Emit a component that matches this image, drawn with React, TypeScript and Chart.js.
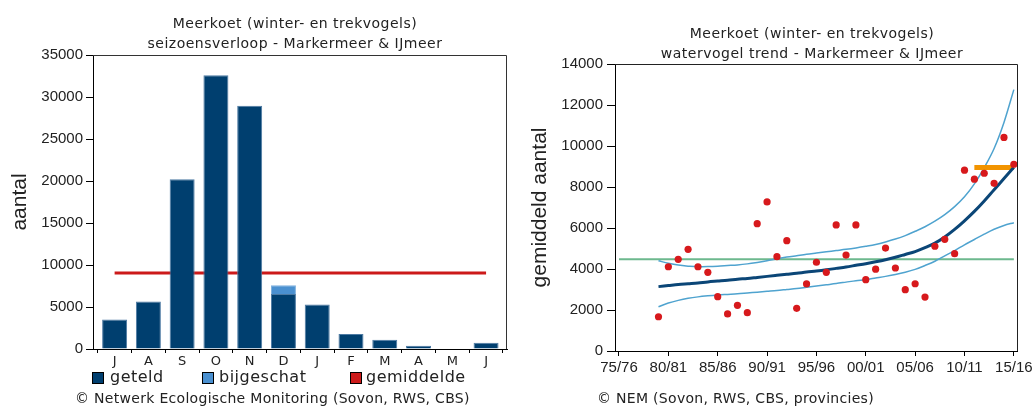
import React, { useEffect, useRef } from 'react';
import { Chart, registerables } from 'chart.js';

Chart.register(...registerables);

// ---------- Left chart: seasonal pattern ----------
const MONTH_LABELS = ['J', 'A', 'S', 'O', 'N', 'D', 'J', 'F', 'M', 'A', 'M', 'J'];
const MONTH_INDEX = [0, 1, 2, 3, 4, 5, 6, 7, 8, 9, 10, 11];
const COUNTED = [3500, 5650, 20200, 32600, 28950, 6550, 5300, 1800, 1100, 400, 0, 750];
const ESTIMATED = [0, 0, 0, 0, 0, 1050, 0, 0, 0, 0, 0, 0];
const SEASON_AVERAGE = 9050;

// ---------- Right chart: trend ----------
const TREND_YEARS = [
  1979, 1980, 1981, 1982, 1983, 1984, 1985, 1986, 1987, 1988,
  1989, 1990, 1991, 1992, 1993, 1994, 1995, 1996, 1997, 1998,
  1999, 2000, 2001, 2002, 2003, 2004, 2005, 2006, 2007, 2008,
  2009, 2010, 2011, 2012, 2013, 2014, 2015,
];
const TREND_COUNTS = [
  1670, 4110, 4470, 4960, 4110, 3840, 2650, 1810, 2230, 1870,
  6210, 7270, 4600, 5380, 2080, 3270, 4330, 3840, 6150, 4680,
  6150, 3480, 3990, 5020, 4050, 2990, 3280, 2630, 5110, 5450,
  4750, 8820, 8380, 8670, 8180, 10420, 9110,
];
const TREND_LINE = [
  3140, 3190, 3240, 3280, 3320, 3370, 3410, 3450, 3500, 3540,
  3590, 3640, 3690, 3740, 3790, 3850, 3900, 3960, 4030, 4100,
  4180, 4260, 4350, 4450, 4570, 4710, 4850, 5040, 5260, 5560,
  5930, 6350, 6810, 7320, 7870, 8410, 8960,
];
const TREND_UPPER = [
  4400, 4280, 4190, 4140, 4110, 4120, 4140, 4170, 4200, 4250,
  4320, 4400, 4500, 4580, 4650, 4720, 4780, 4840, 4900, 4960,
  5030, 5110, 5200, 5320, 5460, 5630, 5840, 6060, 6330, 6650,
  7040, 7520, 8150, 8950, 9880, 11150, 12750,
];
const TREND_LOWER = [
  2160, 2340, 2470, 2570, 2640, 2690, 2730, 2760, 2790, 2830,
  2870, 2910, 2950, 3000, 3050, 3110, 3170, 3230, 3290, 3360,
  3430, 3480, 3560, 3640, 3730, 3840, 3980, 4170, 4380, 4640,
  4900, 5180, 5440, 5700, 5940, 6120, 6260,
];
const REFERENCE_MEAN = 4480;
const REFERENCE_YEARS = [1975, 2015];
const RECENT_MEAN = 8950;
const RECENT_YEARS = [2011, 2015];
const TREND_TICK_YEARS = [1975, 1980, 1985, 1990, 1995, 2000, 2005, 2010, 2015];
const TREND_TICK_LABELS = ['75/76', '80/81', '85/86', '90/91', '95/96', '00/01', '05/06', '10/11', '15/16'];

const SANS = '"Liberation Sans", Arial, sans-serif';
const VERDANA = '"DejaVu Sans", Verdana, sans-serif';

const framePlugin = {
  id: 'frame',
  afterDraw(chart: any, _args: any, opts: any) {
    const { ctx, chartArea } = chart;
    const { left, right, top, bottom } = chartArea;
    ctx.save();
    ctx.strokeStyle = opts.color || '#333';
    ctx.lineWidth = 1;
    ctx.beginPath();
    ctx.moveTo(left, Math.round(top) + 0.5);
    ctx.lineTo(Math.round(right) - 0.5, Math.round(top) + 0.5);
    ctx.lineTo(Math.round(right) - 0.5, bottom);
    ctx.stroke();
    ctx.restore();
  },
};

function SeasonChart() {
  const ref = useRef<HTMLCanvasElement | null>(null);
  useEffect(() => {
    if (!ref.current) return;
    const chart = new Chart(ref.current, {
      type: 'bar',
      data: {
        datasets: [
          {
            type: 'bar',
            label: 'geteld',
            data: MONTH_INDEX.map((i) => ({ x: i, y: COUNTED[i] })),
            backgroundColor: '#003f6f',
            borderColor: '#4d7aa3',
            borderWidth: 1,
            categoryPercentage: 1,
            barPercentage: 0.74,
            order: 0,
          },
          {
            type: 'bar',
            label: 'bijgeschat',
            data: MONTH_INDEX.map((i) => ({ x: i, y: ESTIMATED[i] })),
            backgroundColor: '#4a90d0',
            borderColor: '#7fb0dd',
            borderWidth: 1,
            categoryPercentage: 1,
            barPercentage: 0.74,
            order: 1,
          },
          {
            type: 'line',
            label: 'gemiddelde',
            data: MONTH_INDEX.map((i) => ({ x: i, y: SEASON_AVERAGE })),
            borderColor: '#cc1a1a',
            borderWidth: 3,
            pointRadius: 0,
            order: 5,
          } as any,
        ],
      },
      options: {
        animation: false,
        responsive: false,
        devicePixelRatio: 1,
        events: [],
        layout: { padding: { top: 55, right: 13, bottom: 0, left: 0 } },
        plugins: {
          legend: { display: false },
          tooltip: { enabled: false },
          frame: { color: '#333' },
        } as any,
        scales: {
          x: {
            type: 'linear',
            stacked: true,
            min: -0.64,
            max: 11.62,
            offset: false,
            afterBuildTicks: (s: any) => {
              s.ticks = MONTH_INDEX.map((v) => ({ value: v }));
            },
            afterFit: (s: any) => {
              s.height = 59;
              s.paddingLeft = 0;
              s.paddingRight = 0;
            },
            grid: { drawOnChartArea: false, drawTicks: true, tickLength: 4, color: '#000', offset: true },
            border: { color: '#000', width: 1 },
            ticks: {
              autoSkip: false,
              maxRotation: 0,
              padding: 1,
              color: '#222',
              font: { family: VERDANA, size: 13 },
              callback: (v: any) => MONTH_LABELS[Math.round(Number(v))] ?? '',
            },
          },
          y: {
            stacked: true,
            min: 0,
            max: 35000,
            afterFit: (s: any) => {
              s.width = 93;
              s.paddingTop = 0;
              s.paddingBottom = 0;
            },
            grid: { drawOnChartArea: false, drawTicks: true, tickLength: 7, color: '#000' },
            border: { color: '#000', width: 1 },
            ticks: {
              stepSize: 5000,
              padding: 3,
              color: '#222',
              font: { family: SANS, size: 15 },
              callback: (v: any) => String(v),
            },
            title: {
              display: true,
              text: 'aantal',
              color: '#222',
              font: { family: SANS, size: 21 },
              padding: { top: 8, bottom: 0 },
            },
          },
        },
      } as any,
      plugins: [framePlugin as any],
    });
    return () => chart.destroy();
  }, []);
  return (
    <canvas
      ref={ref}
      width={520}
      height={408}
      style={{ position: 'absolute', left: 0, top: 0, width: 520, height: 408 }}
    />
  );
}

function TrendChart() {
  const ref = useRef<HTMLCanvasElement | null>(null);
  useEffect(() => {
    if (!ref.current) return;
    const pts = (vals: number[]) => TREND_YEARS.map((yr, i) => ({ x: yr, y: vals[i] }));
    const chart = new Chart(ref.current, {
      type: 'line',
      data: {
        datasets: [
          {
            label: 'telling',
            data: pts(TREND_COUNTS),
            showLine: false,
            pointRadius: 3.6,
            pointBackgroundColor: '#d7191c',
            pointBorderWidth: 0,
            order: 0,
          },
          {
            label: 'trend',
            data: pts(TREND_LINE),
            borderColor: '#0b4677',
            borderWidth: 3,
            pointRadius: 0,
            cubicInterpolationMode: 'monotone',
            order: 1,
          },
          {
            label: 'recent',
            data: RECENT_YEARS.map((yr) => ({ x: yr, y: RECENT_MEAN })),
            borderColor: '#f29400',
            borderWidth: 5,
            pointRadius: 0,
            order: 2,
          },
          {
            label: 'boven',
            data: pts(TREND_UPPER),
            borderColor: '#4fa3cf',
            borderWidth: 1.5,
            pointRadius: 0,
            cubicInterpolationMode: 'monotone',
            order: 3,
          },
          {
            label: 'onder',
            data: pts(TREND_LOWER),
            borderColor: '#4fa3cf',
            borderWidth: 1.5,
            pointRadius: 0,
            cubicInterpolationMode: 'monotone',
            order: 3,
          },
          {
            label: 'referentie',
            data: REFERENCE_YEARS.map((yr) => ({ x: yr, y: REFERENCE_MEAN })),
            borderColor: '#6db88e',
            borderWidth: 2,
            pointRadius: 0,
            order: 4,
          },
        ] as any,
      },
      options: {
        animation: false,
        responsive: false,
        devicePixelRatio: 1,
        events: [],
        layout: { padding: { top: 64, right: 15.5, bottom: 0, left: 0 } },
        plugins: {
          legend: { display: false },
          tooltip: { enabled: false },
          frame: { color: '#222' },
        } as any,
        scales: {
          x: {
            type: 'linear',
            min: 1974.595,
            max: 2015.37,
            afterBuildTicks: (s: any) => {
              s.ticks = TREND_TICK_YEARS.map((v) => ({ value: v }));
            },
            afterFit: (s: any) => {
              s.height = 57;
              s.paddingLeft = 0;
              s.paddingRight = 0;
            },
            grid: { drawOnChartArea: false, drawTicks: true, tickLength: 5, color: '#000' },
            border: { color: '#000', width: 1 },
            ticks: {
              autoSkip: false,
              maxRotation: 0,
              padding: 3,
              color: '#222',
              font: { family: SANS, size: 15 },
              callback: (_v: any, i: number) => TREND_TICK_LABELS[i],
            },
          },
          y: {
            min: 0,
            max: 14000,
            afterFit: (s: any) => {
              s.width = 95;
              s.paddingTop = 0;
              s.paddingBottom = 0;
            },
            grid: { drawOnChartArea: false, drawTicks: true, tickLength: 8, color: '#000' },
            border: { color: '#000', width: 1 },
            ticks: {
              stepSize: 2000,
              padding: 4,
              color: '#222',
              font: { family: SANS, size: 15 },
              callback: (v: any) => String(v),
            },
            title: {
              display: true,
              text: 'gemiddeld aantal',
              color: '#222',
              font: { family: SANS, size: 21 },
              padding: { top: 8, bottom: 0 },
            },
          },
        },
      } as any,
      plugins: [framePlugin as any],
    });
    return () => chart.destroy();
  }, []);
  return (
    <canvas
      ref={ref}
      width={513}
      height={408}
      style={{ position: 'absolute', left: 520, top: 0, width: 513, height: 408 }}
    />
  );
}

const titleStyle = (cx: number, top: number): React.CSSProperties => ({
  position: 'absolute',
  left: cx - 220,
  width: 440,
  top,
  textAlign: 'center',
  fontFamily: VERDANA,
  fontSize: 14,
  lineHeight: '20px',
  letterSpacing: '0.5px',
  color: '#222',
  whiteSpace: 'nowrap',
});

const LEGEND_ITEMS = [
  { label: 'geteld', color: '#003f6f', box: 92, text: 110 },
  { label: 'bijgeschat', color: '#4a90d0', box: 202, text: 219 },
  { label: 'gemiddelde', color: '#cc1a1a', box: 350, text: 366 },
];

export default function App() {
  return (
    <div
      style={{
        position: 'absolute',
        left: 0,
        top: 0,
        width: 1033,
        height: 408,
        background: '#fff',
        overflow: 'hidden',
      }}
    >
      <SeasonChart />
      <TrendChart />
      <div style={titleStyle(295, 13)}>
        Meerkoet (winter- en trekvogels)
        <br />
        seizoensverloop - Markermeer &amp; IJmeer
      </div>
      <div style={titleStyle(812, 23)}>
        Meerkoet (winter- en trekvogels)
        <br />
        watervogel trend - Markermeer &amp; IJmeer
      </div>
      {LEGEND_ITEMS.map((it) => (
        <React.Fragment key={it.label}>
          <div
            style={{
              position: 'absolute',
              left: it.box,
              top: 372,
              width: 12,
              height: 12,
              boxSizing: 'border-box',
              border: '1px solid #000',
              background: it.color,
            }}
          />
          <div
            style={{
              position: 'absolute',
              left: it.text,
              top: 369,
              fontFamily: VERDANA,
              fontSize: 16,
              lineHeight: '16px',
              letterSpacing: '0.5px',
              color: '#222',
              whiteSpace: 'nowrap',
            }}
          >
            {it.label}
          </div>
        </React.Fragment>
      ))}
      <div
        style={{
          position: 'absolute',
          left: 75,
          top: 390,
          fontFamily: VERDANA,
          fontSize: 14,
          lineHeight: '16px',
          letterSpacing: '0.3px',
          color: '#222',
          whiteSpace: 'nowrap',
        }}
      >
        © Netwerk Ecologische Monitoring (Sovon, RWS, CBS)
      </div>
      <div
        style={{
          position: 'absolute',
          left: 597,
          top: 390,
          fontFamily: VERDANA,
          fontSize: 14,
          lineHeight: '16px',
          letterSpacing: '0.3px',
          color: '#222',
          whiteSpace: 'nowrap',
        }}
      >
        © NEM (Sovon, RWS, CBS, provincies)
      </div>
    </div>
  );
}
